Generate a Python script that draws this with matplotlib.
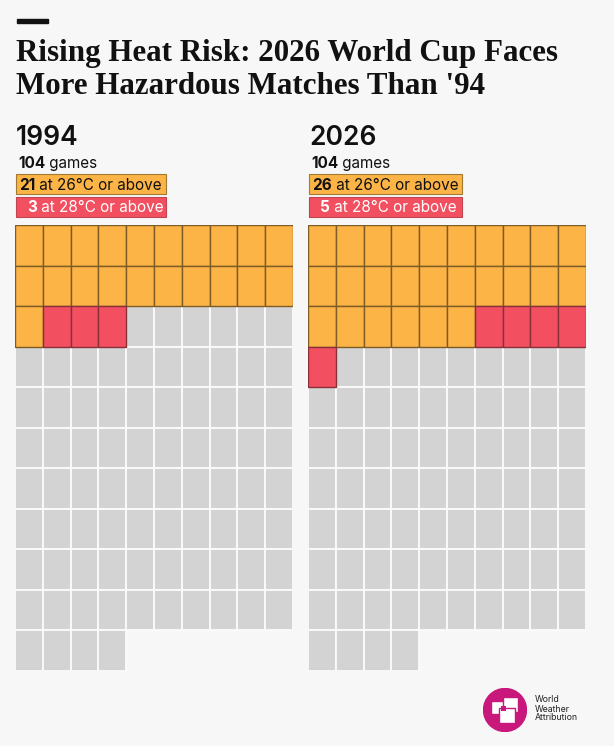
import matplotlib.pyplot as plt
from matplotlib.patches import Rectangle, Circle

# data
years = ['1994', '2026']
total_games = [104, 104]
hot26 = [21, 26]   # games at 26°C or above
hot28 = [3, 5]     # games at 28°C or above
n_cols = 10

title_lines = ["Rising Heat Risk: 2026 World Cup Faces",
               "More Hazardous Matches Than '94"]

BG = '#f7f7f7'
ORANGE = '#fdb446'
RED = '#f25060'
GREY = '#d3d3d3'
INK = '#111111'

W, H = 614, 746
fig = plt.figure(figsize=(W / 100, H / 100), dpi=100, facecolor=BG)

# invisible full-figure axes in pixel coords, for header boxes and texts
bg = fig.add_axes([0, 0, 1, 1])
bg.set_xlim(0, W)
bg.set_ylim(H, 0)
bg.axis('off')
bg.set_zorder(5)

# little dash + title
bg.add_patch(Rectangle((17, 19), 31, 4, color=INK))
for k, line in enumerate(title_lines):
    bg.text(16, 61 + 33 * k, line, fontsize=22.3, fontweight='bold',
            family='Liberation Serif', color=INK, va='baseline')

grid_left = [15, 308]
grid_w = 278
grid_top, grid_bot = 225, 671
n_rows = -(-max(total_games) // n_cols)

for i, yr in enumerate(years):
    x0 = grid_left[i]
    # header texts
    bg.text(x0 + 1, 145, yr, fontsize=19, family='Inter', fontweight='semibold',
            color=INK, va='baseline')
    t = bg.text(x0 + 3, 168, str(total_games[i]), fontsize=11,
                family='Inter', fontweight='bold', color=INK, va='baseline')
    bg.annotate(' games', xy=(1, 0), xycoords=t, fontsize=11,
                family='Inter', color=INK, va='bottom')

    bw = 150 if i == 0 else 153
    for j, (cnt, temp, fc, ec, tc) in enumerate([
            (hot26[i], 26, ORANGE, '#a07a30', INK),
            (hot28[i], 28, RED, '#c04550', 'white')]):
        top = 174 + j * 23
        bg.add_patch(Rectangle((x0 + 1, top), bw, 20, facecolor=fc,
                               edgecolor=ec, lw=0.8))
        pad = 3 if cnt >= 10 else 11
        t1 = bg.text(x0 + 1 + pad, top + 15.5, str(cnt), fontsize=11,
                     fontweight='bold', family='Inter', color=tc,
                     va='baseline')
        bg.annotate(f' at {temp}°C or above', xy=(1, 0), xycoords=t1,
                    fontsize=11, family='Inter', color=tc, va='bottom')

    # waffle
    ax = fig.add_axes([x0 / W, 1 - grid_bot / H, grid_w / W,
                       (grid_bot - grid_top) / H])
    ax.set_xlim(0, n_cols)
    ax.set_ylim(n_rows, 0)
    ax.axis('off')
    colored = []
    for k in range(total_games[i]):
        c, r = k % n_cols, k // n_cols
        if k < hot26[i]:
            colored.append((c, r, ORANGE, '#7d5c25'))
        elif k < hot26[i] + hot28[i]:
            colored.append((c, r, RED, '#8a3038'))
        else:
            ax.add_patch(Rectangle((c, r), 1, 1, facecolor=GREY,
                                   edgecolor='#fbfbfb', lw=1.3))
    for c, r, fc, ec in colored:
        ax.add_patch(Rectangle((c, r), 1, 1, facecolor=fc, edgecolor=ec,
                               lw=1.0))

# logo
MAG = '#c8187c'
lax = fig.add_axes([483 / W, 1 - 732 / H, 44 / W, 44 / H])
lax.set_xlim(0, 44)
lax.set_ylim(44, 0)
lax.axis('off')
lax.add_patch(Circle((22, 22), 21.5, color=MAG))
lax.add_patch(Rectangle((8, 13), 13, 13, facecolor='white', edgecolor=MAG, lw=1))
lax.add_patch(Rectangle((20, 9), 15, 15, facecolor='white', edgecolor=MAG, lw=1))
lax.add_patch(Rectangle((16, 20), 16, 15, facecolor='white', edgecolor=MAG, lw=1))
lax.add_patch(Rectangle((18, 18), 5, 5, facecolor=MAG, lw=0))
bg.text(535, 709, 'World\nWeather\nAttribution', fontsize=6.3,
        family='Inter', color='#222222', va='center', linespacing=1.0)

fig.savefig('out.png', dpi=100, facecolor=BG)
